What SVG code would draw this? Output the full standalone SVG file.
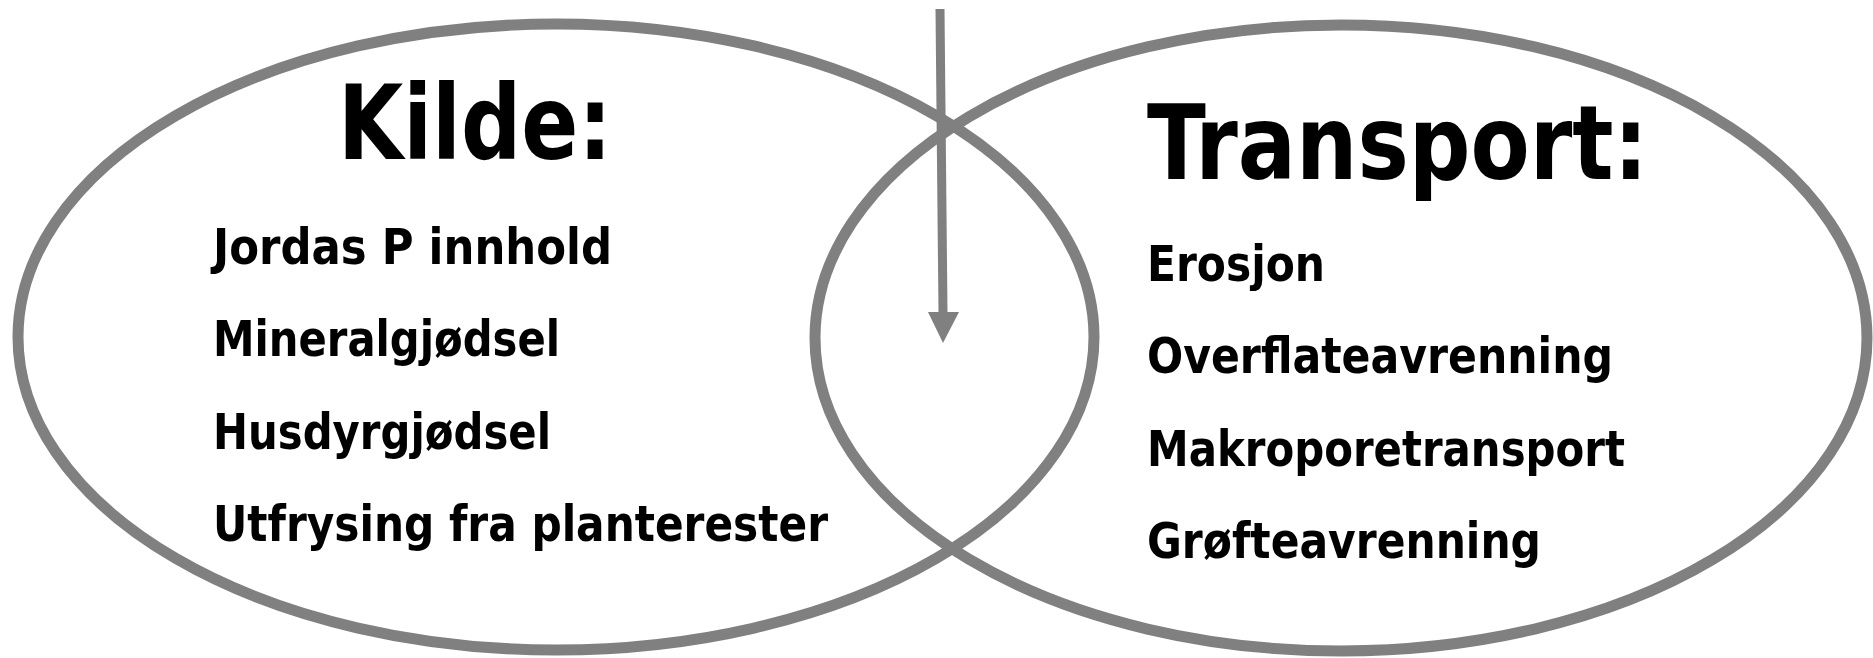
<svg xmlns="http://www.w3.org/2000/svg" width="1873" height="658" viewBox="0 0 1873 658">
<style>
.ring{fill:none;stroke:#808080;stroke-width:11}
.title{font-family:"DejaVu Sans Condensed","DejaVu Sans",sans-serif;font-weight:bold;font-size:104px;fill:#000}
.item{font-family:"DejaVu Sans Condensed","DejaVu Sans",sans-serif;font-weight:bold;font-size:50px;fill:#000}
.conn{stroke:#808080;stroke-width:9;fill:none}
</style>
<defs>
<marker id="ah" markerUnits="userSpaceOnUse" markerWidth="32" markerHeight="32" refX="16" refY="0" orient="auto-start-reverse" viewBox="0 -2 32 34" overflow="visible">
<path d="M0,0 L30,0 L15,31 Z" fill="#808080"/>
</marker>
</defs>
<rect width="1873" height="658" fill="#fff"/>
<g id="kilde">
<ellipse class="ring" cx="556" cy="337" rx="538" ry="313"/>
<text class="title" x="338" y="159" textLength="274" lengthAdjust="spacingAndGlyphs">Kilde:</text>
<text class="item" x="213" y="264" textLength="399" lengthAdjust="spacingAndGlyphs">Jordas P innhold</text>
<text class="item" x="213" y="356" textLength="347" lengthAdjust="spacingAndGlyphs">Mineralgjødsel</text>
<text class="item" x="213" y="449" textLength="338" lengthAdjust="spacingAndGlyphs">Husdyrgjødsel</text>
<text class="item" x="213" y="541" textLength="615" lengthAdjust="spacingAndGlyphs">Utfrysing fra planterester</text>
</g>
<g id="transport">
<ellipse class="ring" cx="1341" cy="338" rx="526" ry="313"/>
<text class="title" x="1147" y="179" textLength="501" lengthAdjust="spacingAndGlyphs">Transport:</text>
<text class="item" x="1147" y="281" textLength="178" lengthAdjust="spacingAndGlyphs">Erosjon</text>
<text class="item" x="1147" y="373" textLength="466" lengthAdjust="spacingAndGlyphs">Overflateavrenning</text>
<text class="item" x="1147" y="466" textLength="478" lengthAdjust="spacingAndGlyphs">Makroporetransport</text>
<text class="item" x="1147" y="558" textLength="394" lengthAdjust="spacingAndGlyphs">Grøfteavrenning</text>
</g>
<g id="connectors">
<line class="conn" x1="940" y1="9" x2="943" y2="313"/>
<path d="M928,312 L959,312 L943,343 Z" fill="#808080"/>
</g>
</svg>
